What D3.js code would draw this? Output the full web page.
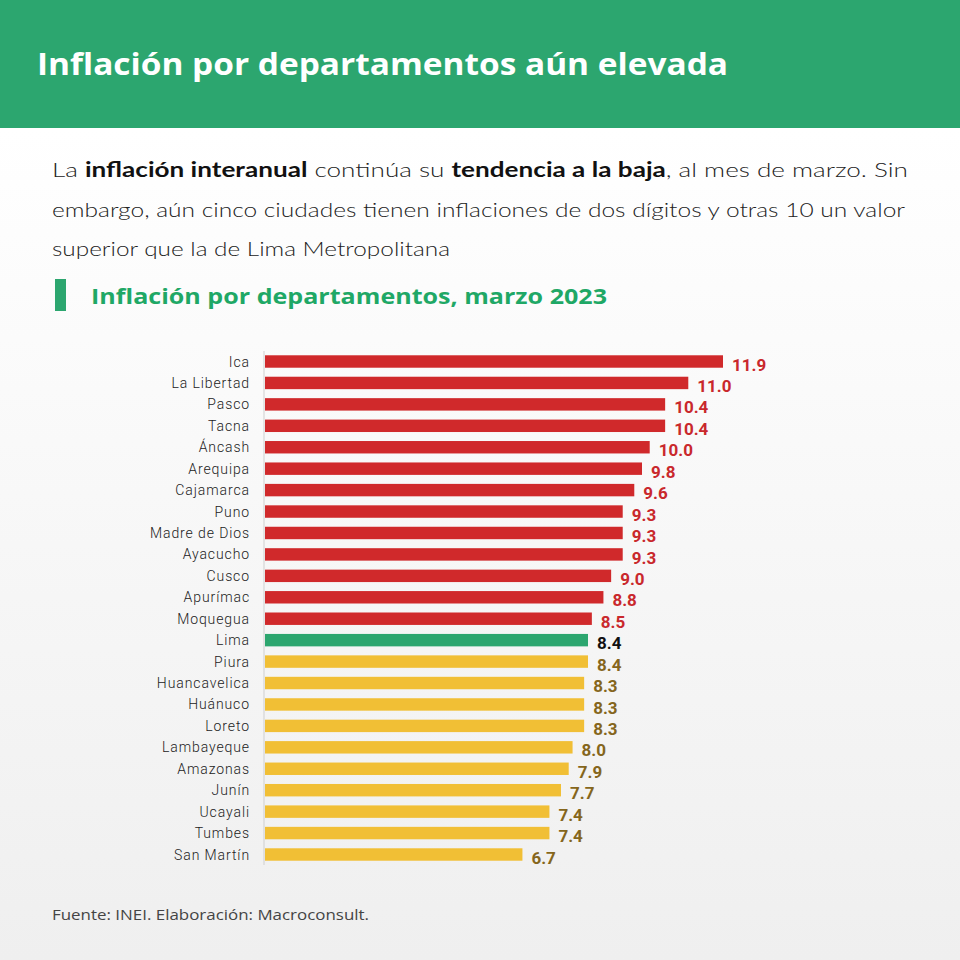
<!DOCTYPE html>
<html><head><meta charset="utf-8">
<script src="https://cdn.jsdelivr.net/npm/d3@7"></script>
<style>
html,body{margin:0;padding:0;}
body{width:960px;height:960px;position:relative;overflow:hidden;background:linear-gradient(#ffffff 130px,#efefef 960px);}
svg{position:absolute;left:0;top:0;}
</style></head>
<body>
<svg id="chart" width="960" height="960"></svg>
<script>
const departamentos = ["Ica","La Libertad","Pasco","Tacna","Áncash","Arequipa","Cajamarca","Puno","Madre de Dios","Ayacucho","Cusco","Apurímac","Moquegua","Lima","Piura","Huancavelica","Huánuco","Loreto","Lambayeque","Amazonas","Junín","Ucayali","Tumbes","San Martín"];
const inflacion = [11.9,11.0,10.4,10.4,10.0,9.8,9.6,9.3,9.3,9.3,9.0,8.8,8.5,8.4,8.4,8.3,8.3,8.3,8.0,7.9,7.7,7.4,7.4,6.7];
const grupo = ["alto","alto","alto","alto","alto","alto","alto","alto","alto","alto","alto","alto","alto","lima","bajo","bajo","bajo","bajo","bajo","bajo","bajo","bajo","bajo","bajo"];
const barColor = {alto:"#d0292b", lima:"#2ca66f", bajo:"#f1bf35"};
const labelColor = {alto:"#c9282c", lima:"#111111", bajo:"#85661c"};

const titulo = "Inflación por departamentos aún elevada";
const subtitulo = "Inflación por departamentos, marzo 2023";
const fuente = "Fuente: INEI. Elaboración: Macroconsult.";
// paragraph lines: [text, bold] segments
const parrafo = [
  [["La ",false],["inflación interanual",true],[" continúa su ",false],["tendencia a la baja",true],[", al mes de marzo. Sin",false]],
  [["embargo, aún cinco ciudades tienen inflaciones de dos dígitos y otras 10 un valor",false]],
  [["superior que la de Lima Metropolitana",false]]
];

const svg = d3.select("#chart");

// header
svg.append("rect").attr("x",0).attr("y",0).attr("width",960).attr("height",128).attr("fill","#2ca66f");
svg.append("text").attr("x",37).attr("y",75).attr("font-family","'Open Sans', sans-serif").attr("font-weight",700)
  .attr("font-size",30).attr("fill","#fff").attr("textLength",691).attr("lengthAdjust","spacingAndGlyphs").text(titulo);

// paragraph
const pY = [177, 217, 256];
const pLen = [856, 853, 398];
parrafo.forEach((line,i)=>{
  const t = svg.append("text").attr("x",52).attr("y",pY[i]).attr("font-family","Lato, sans-serif")
    .attr("font-size",20).attr("fill","#222").attr("textLength",pLen[i]).attr("lengthAdjust","spacingAndGlyphs");
  line.forEach(([s,b])=>{
    t.append("tspan").attr("font-weight",b?700:300).attr("fill",b?"#111":"#222").text(s);
  });
});

// subtitle
svg.append("rect").attr("x",55).attr("y",279).attr("width",11).attr("height",32).attr("fill","#2ca66f");
svg.append("text").attr("x",91).attr("y",304).attr("font-family","'Open Sans', sans-serif").attr("font-weight",700)
  .attr("font-size",21).attr("fill","#1fa866").attr("textLength",516).attr("lengthAdjust","spacingAndGlyphs").text(subtitulo);

// footer
svg.append("text").attr("x",52).attr("y",920).attr("font-family","'Open Sans', sans-serif").attr("font-weight",400)
  .attr("font-size",14).attr("fill","#444").attr("textLength",317).attr("lengthAdjust","spacingAndGlyphs").text(fuente);

// chart
const data = departamentos.map((d,i)=>({name:d, value:inflacion[i], g:grupo[i]}));
const x0 = 264, y0 = 351, y1 = 865;
const x = d3.scaleLinear().domain([0, 11.9]).range([x0, 723]);
const y = d3.scaleBand().domain(departamentos).range([y0, y1]).paddingInner(0.42).paddingOuter(0.2);

svg.append("line").attr("x1",x0).attr("x2",x0).attr("y1",y0).attr("y2",y1)
  .attr("stroke","#cfcfcf").attr("stroke-width",1);

svg.selectAll("rect.bar").data(data).join("rect").attr("class","bar")
  .attr("x",x(0)+1).attr("y",d=>y(d.name)).attr("height",y.bandwidth())
  .attr("width",d=>x(d.value)-x(0)-1).attr("fill",d=>barColor[d.g]);

svg.selectAll("text.cat").data(data).join("text").attr("class","cat")
  .attr("x",x0-14).attr("y",d=>y(d.name)+y.bandwidth()/2).attr("dy","0.36em")
  .attr("text-anchor","end").attr("font-family","Roboto, sans-serif").attr("font-weight",300)
  .attr("font-size",14).attr("letter-spacing","0.9px").attr("fill","#222").text(d=>d.name);

svg.selectAll("text.val").data(data).join("text").attr("class","val")
  .attr("x",d=>x(d.value)+9).attr("y",d=>y(d.name)+y.bandwidth()/2+3).attr("dy","0.36em")
  .attr("font-family","Roboto, sans-serif").attr("font-weight",700).attr("font-size",17)
  .attr("fill",d=>labelColor[d.g]).text(d=>d.value.toFixed(1));
</script>
</body></html>
